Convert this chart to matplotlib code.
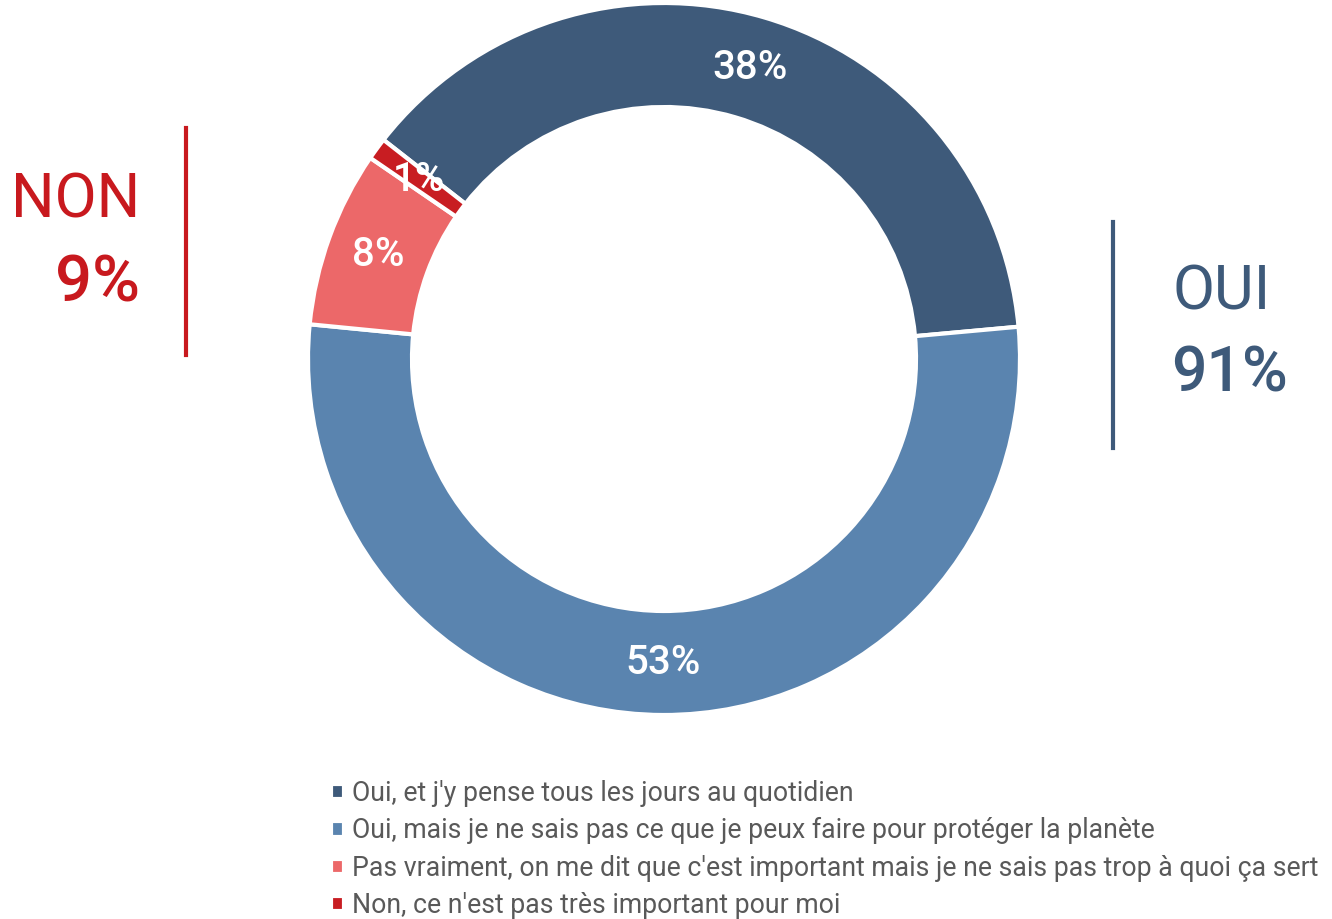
import matplotlib.pyplot as plt

plt.rcParams['font.family'] = ['Roboto', 'DejaVu Sans']

labels = ["Oui, et j'y pense tous les jours au quotidien",
          "Oui, mais je ne sais pas ce que je peux faire pour protéger la planète",
          "Pas vraiment, on me dit que c'est important mais je ne sais pas trop à quoi ça sert",
          "Non, ce n'est pas très important pour moi"]
values = [38, 53, 8, 1]
colors = ["#3E5A7A", "#5A84AF", "#EC6869", "#C81D22"]
oui_total = "91%"
non_total = "9%"

fig = plt.figure(figsize=(13.32, 9.19), dpi=100)
ax = fig.add_axes([0, 0, 1, 1])

wedges, texts, autotexts = ax.pie(
    values, colors=colors, startangle=142, counterclock=False,
    center=(664, 560), radius=356, frame=True,
    wedgeprops=dict(width=104, edgecolor='white', linewidth=3),
    autopct=lambda p: f"{p:.0f}%", pctdistance=0.853,
    textprops=dict(color='white', fontsize=29, fontweight='medium'))
ax.set_xlim(0, 1332)
ax.set_ylim(0, 919)
ax.set_aspect('equal')
ax.axis('off')

# NON block
ax.text(140, 718, "NON", color="#C8191E", fontsize=44, ha='right', va='center')
ax.text(140, 636, non_total, color="#C8191E", fontsize=47, fontweight='medium', ha='right', va='center')
ax.plot([186, 186], [919 - 128, 919 - 355], color="#C8191E", lw=3)

# OUI block
ax.text(1172, 626, "OUI", color="#3E5A7A", fontsize=44, ha='left', va='center')
ax.text(1171, 544, oui_total, color="#3E5A7A", fontsize=45, fontweight='medium', ha='left', va='center')
ax.plot([1113, 1113], [919 - 222, 919 - 448], color="#3E5A7A", lw=3)

leg = ax.legend(wedges, labels, loc='upper left', bbox_to_anchor=(331 / 1332, 1 - 780 / 919),
                frameon=False, fontsize=19.2, handlelength=0.5, handleheight=0.5,
                handletextpad=0.3, labelspacing=0.39, borderpad=0, borderaxespad=0)
for t in leg.get_texts():
    t.set_color("#595959")

fig.savefig("out.png", dpi=100)
